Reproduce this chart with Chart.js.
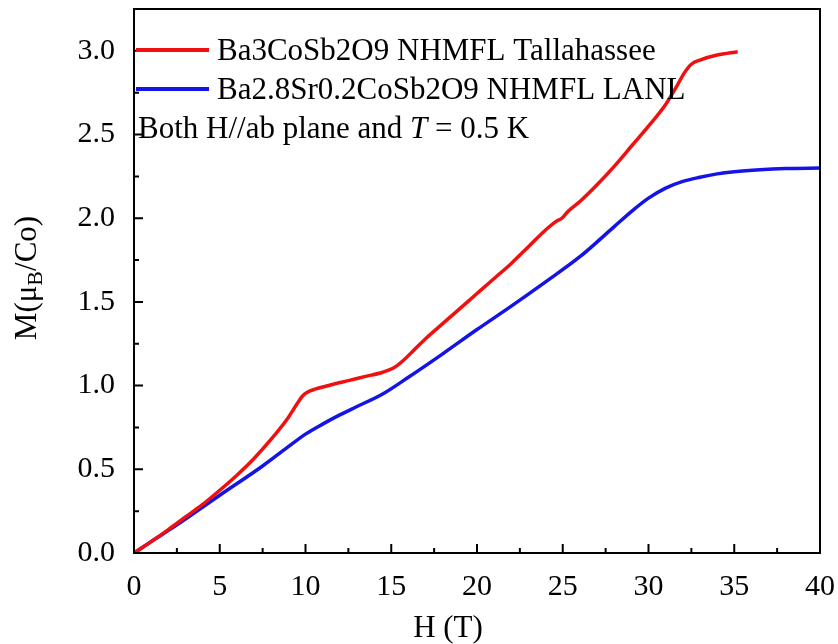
<!DOCTYPE html>
<html lang="en">
<head>
  <meta charset="UTF-8" />
  <title>M vs H</title>
  <script src="https://cdn.jsdelivr.net/npm/chart.js"></script>
  <style>
    html, body { margin: 0; padding: 0; background: #fff; }
    #wrap { width: 838px; height: 644px; }
  </style>
</head>
<body>
  <div id="wrap"><canvas id="mhChart" width="838" height="644"></canvas></div>
  <script>
    // data
    const seriesNames = ["Ba3CoSb2O9 NHMFL Tallahassee", "Ba2.8Sr0.2CoSb2O9 NHMFL LANL"];
    const seriesColors = ["#f01010", "#1414e6"];

    const fieldRed  = [0, 1, 2, 3, 4, 5, 6, 7, 8, 9, 9.5, 9.8, 10.1, 10.6, 11.5, 12.5, 13.5, 14.5, 15.2, 15.7, 16.3, 17, 18, 19, 20, 21, 22, 23, 24, 24.6, 24.95, 25.3, 26, 27, 28, 29, 30, 31, 31.6, 32.1, 32.5, 33, 34, 35.2];
    const momentRed = [0, 0.068, 0.14, 0.215, 0.29, 0.375, 0.465, 0.565, 0.68, 0.81, 0.89, 0.935, 0.96, 0.98, 1.005, 1.03, 1.055, 1.08, 1.11, 1.15, 1.21, 1.28, 1.37, 1.46, 1.55, 1.64, 1.73, 1.83, 1.93, 1.98, 2.0, 2.04, 2.1, 2.2, 2.31, 2.43, 2.55, 2.68, 2.78, 2.87, 2.92, 2.945, 2.975, 2.995];

    const fieldBlue  = [0, 1, 2.5, 5, 7.5, 9, 10, 11, 12, 13, 14.5, 16, 18, 20, 22, 24, 26, 28, 29, 30, 31, 32, 33, 34, 35, 36.5, 38, 40];
    const momentBlue = [0, 0.068, 0.168, 0.345, 0.52, 0.635, 0.71, 0.77, 0.825, 0.875, 0.95, 1.05, 1.19, 1.335, 1.475, 1.62, 1.77, 1.95, 2.04, 2.12, 2.18, 2.22, 2.245, 2.265, 2.278, 2.29, 2.297, 2.30];

    const xTicks = [0, 5, 10, 15, 20, 25, 30, 35, 40];
    const yTicks = [0, 0.5, 1.0, 1.5, 2.0, 2.5, 3.0];

    const toPoints = (xs, ys) => xs.map((x, i) => ({ x: x, y: ys[i] }));
    const serif = "'Liberation Serif', 'DejaVu Serif', serif";

    // frame, inward ticks, axis titles, legend and note
    const decorPlugin = {
      id: "decor",
      afterDraw(chart) {
        const ctx = chart.ctx;
        const a = chart.chartArea;
        const xs = chart.scales.x, ys = chart.scales.y;
        ctx.save();
        ctx.strokeStyle = "#000";
        ctx.lineWidth = 2;
        ctx.strokeRect(a.left, a.top, a.right - a.left, a.bottom - a.top);

        ctx.beginPath();
        xTicks.forEach(v => {
          const p = xs.getPixelForValue(v);
          ctx.moveTo(p, a.bottom); ctx.lineTo(p, a.bottom - 9);
          if (v + 2.5 <= 40) {
            const m = xs.getPixelForValue(v + 2.5);
            ctx.moveTo(m, a.bottom); ctx.lineTo(m, a.bottom - 5);
          }
        });
        yTicks.forEach(v => {
          const p = ys.getPixelForValue(v);
          ctx.moveTo(a.left, p); ctx.lineTo(a.left + 9, p);
          const m = ys.getPixelForValue(v + 0.25);
          ctx.moveTo(a.left, m); ctx.lineTo(a.left + 5, m);
        });
        ctx.stroke();

        ctx.fillStyle = "#000";
        ctx.textBaseline = "alphabetic";

        // x title
        ctx.font = "31px " + serif;
        ctx.textAlign = "center";
        ctx.fillText("H (T)", 448, 637);

        // y title with subscript
        ctx.save();
        ctx.translate(36, 278);
        ctx.rotate(-Math.PI / 2);
        ctx.textAlign = "left";
        const big = "31px " + serif, small = "22px " + serif;
        ctx.font = big;
        const w1 = ctx.measureText("M(\u03bc").width;
        const w3 = ctx.measureText("/Co)").width;
        ctx.font = small;
        const w2 = ctx.measureText("B").width;
        let x0 = -(w1 + w2 + w3) / 2;
        ctx.font = big; ctx.fillText("M(\u03bc", x0, 0);
        ctx.font = small; ctx.fillText("B", x0 + w1, 6);
        ctx.font = big; ctx.fillText("/Co)", x0 + w1 + w2, 0);
        ctx.restore();

        // legend
        const rows = [50, 89];
        chart.data.datasets.forEach((ds, i) => {
          ctx.strokeStyle = ds.borderColor;
          ctx.lineWidth = 4;
          ctx.beginPath();
          ctx.moveTo(136, rows[i]); ctx.lineTo(209, rows[i]);
          ctx.stroke();
          ctx.font = "31px " + serif;
          ctx.textAlign = "left";
          ctx.fillText(ds.label, 217, rows[i] + 10);
        });

        // note
        let nx = 138;
        const ny = 138;
        const parts = [["Both H//ab plane and ", ""], ["T", "italic "], [" = 0.5 K", ""]];
        parts.forEach(([t, st]) => {
          ctx.font = st + "31px " + serif;
          ctx.fillText(t, nx, ny);
          nx += ctx.measureText(t).width;
        });
        ctx.restore();
      }
    };

    const noPad = s => { s.paddingTop = 0; s.paddingBottom = 0; s.paddingLeft = 0; s.paddingRight = 0; };

    new Chart(document.getElementById("mhChart"), {
      type: "scatter",
      data: {
        datasets: [
          { label: seriesNames[0], data: toPoints(fieldRed, momentRed), borderColor: seriesColors[0], backgroundColor: seriesColors[0] },
          { label: seriesNames[1], data: toPoints(fieldBlue, momentBlue), borderColor: seriesColors[1], backgroundColor: seriesColors[1] }
        ]
      },
      options: {
        responsive: false,
        animation: false,
        showLine: true,
        elements: {
          point: { radius: 0, hoverRadius: 0 },
          line: { borderWidth: 3.5, cubicInterpolationMode: "monotone" }
        },
        layout: { padding: { left: 0, top: 9, right: 18, bottom: 0 } },
        plugins: { legend: { display: false }, tooltip: { enabled: false } },
        scales: {
          x: {
            type: "linear", min: 0, max: 40,
            grid: { display: false },
            border: { display: false },
            ticks: { stepSize: 5, color: "#000", padding: 8, maxRotation: 0, font: { family: serif, size: 30 } },
            afterFit: s => { s.height = 91; noPad(s); }
          },
          y: {
            type: "linear", min: 0, max: 3.25,
            grid: { display: false },
            border: { display: false },
            ticks: { stepSize: 0.5, color: "#000", padding: 11, font: { family: serif, size: 30 },
              callback: v => v.toFixed(1) },
            afterBuildTicks: s => { s.ticks = s.ticks.filter(t => yTicks.some(v => Math.abs(v - t.value) < 1e-6)); },
            afterFit: s => { s.width = 134; noPad(s); }
          }
        }
      },
      plugins: [decorPlugin]
    });
  </script>
</body>
</html>
